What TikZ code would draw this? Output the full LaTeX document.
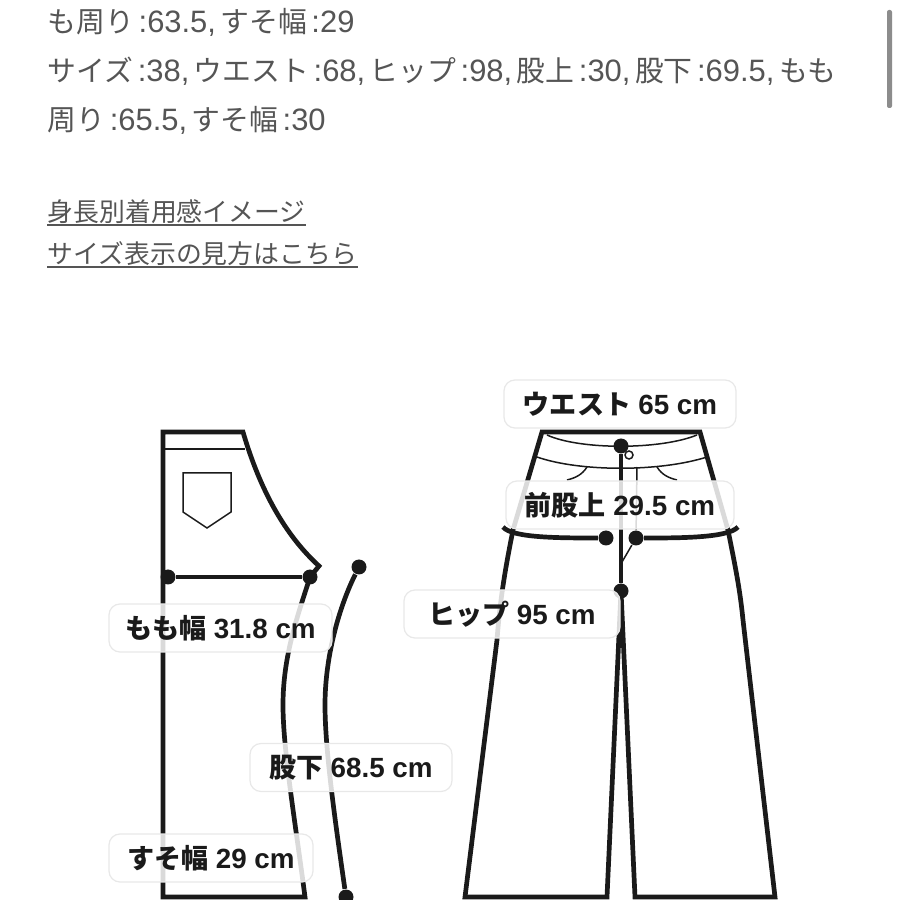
\documentclass[tikz,border=0pt]{standalone}
\usepackage{fontspec}
\setmainfont{Noto Sans CJK JP}
\newfontfamily\latf{Liberation Sans}
\usepackage{xcolor}
\usetikzlibrary{positioning}
\definecolor{textg}{HTML}{555555}
\definecolor{inkk}{HTML}{1A1A1A}
\newcommand{\tnum}[1]{\kern1.28pt{\fontsize{8.8}{8}\selectfont\latf #1}\kern1.28pt}
\newcommand{\lnum}[1]{\hspace{0.3pt}{\fontsize{7.9}{8}\selectfont\latf #1}}
\tikzset{
    mydot/.style = {circle, fill=inkk, inner sep=0pt, minimum size=0.15cm},
    outl/.style = {draw=inkk, line width=0.047cm, line join=miter},
    thin/.style = {draw=inkk, line width=0.015cm},
    toptext/.style = {anchor=base west, inner sep=0pt, text=textg, font=\fontsize{8.2}{8}\selectfont},
    linktext/.style = {anchor=base west, inner sep=0pt, text=textg, font=\fontsize{7.35}{8}\selectfont},
    linkline/.style = {draw=textg, line width=0.02cm},
    sizelabel/.style = {rectangle, rounded corners=0.11cm, draw=black!9, line width=0.012cm, fill=white, fill opacity=0.84, text opacity=1, text=inkk, inner sep=0pt, font=\fontsize{7.7}{8}\bfseries\selectfont, minimum height=0.48cm},
}
\begin{document}
\begin{tikzpicture}
\useasboundingbox (0,0) rectangle (9,9);
\fill[white] (0,0) rectangle (9,9);
\node[toptext] (topa) at (0.47,8.67) {も周り\tnum{:63.5,}すそ幅\tnum{:29}};
\node[toptext] (topb) at (0.47,8.18) {サイズ\tnum{:38,}ウエスト\tnum{:68,}ヒップ\tnum{:98,}股上\tnum{:30,}股下\tnum{:69.5,}もも};
\node[toptext] (topc) at (0.47,7.69) {周り\tnum{:65.5,}すそ幅\tnum{:30}};
\node[linktext] (lnka) at (0.47,6.78) {身長別着用感イメージ};
\node[linktext] (lnkb) at (0.47,6.36) {サイズ表示の見方はこちら};
\draw[linkline] ([yshift=-0.03cm]lnka.base west) -- ([yshift=-0.03cm]lnka.base east);
\draw[linkline] ([yshift=-0.03cm]lnkb.base west) -- ([yshift=-0.03cm]lnkb.base east);
\fill[black!45,rounded corners=0.02cm] (8.87,7.92) rectangle (8.92,8.90);
%
% side view
\draw[outl] (1.63,4.68) -- (2.43,4.68) .. controls (2.60,4.10) and (2.85,3.65) .. (3.19,3.34)
    -- (3.10,3.23) .. controls (2.98,2.85) and (2.83,2.45) .. (2.83,1.95)
    .. controls (2.83,1.5) and (2.95,0.8) .. (3.05,0.03) -- (1.63,0.03) -- cycle;
\draw[thin] (1.65,4.51) -- (2.45,4.51);
\draw[thin] (1.83,4.27) -- (2.31,4.27) -- (2.31,3.88) -- (2.07,3.72) -- (1.83,3.88) -- cycle;
%
\node[mydot] at (1.68,3.23) (tl) {};
\node[mydot] at (3.10,3.23) (tr) {};
\node[mydot] at (3.59,3.33) (ia) {};
\node[mydot] at (3.46,0.03) (ib) {};
\draw[outl] (tl) -- (tr);
\draw[outl] (ia) .. controls (3.40,2.95) and (3.25,2.45) .. (3.25,1.95)
    .. controls (3.25,1.5) and (3.35,0.8) .. (ib);
%
% front view
\draw[outl] (5.42,4.68) -- (7.00,4.68) -- (7.28,3.70) .. controls (7.36,3.3) and (7.40,3.1) .. (7.43,2.80)
    -- (7.75,0.03) -- (6.35,0.03) -- (6.21,3.09) -- (6.07,0.03) -- (4.65,0.03) -- (4.97,2.60)
    .. controls (5.00,3.0) and (5.05,3.3) .. (5.13,3.70) -- cycle;
\draw[thin] (5.47,4.65) .. controls (5.80,4.50) and (6.60,4.50) .. (6.97,4.65);
\draw[thin] (5.37,4.43) .. controls (5.80,4.28) and (6.60,4.28) .. (7.07,4.43);
\draw[thin] (5.87,4.33) .. controls (5.82,4.25) and (5.75,4.22) .. (5.67,4.20);
\draw[thin] (6.57,4.33) .. controls (6.62,4.25) and (6.69,4.22) .. (6.77,4.20);
\node[circle,thin,fill=white,inner sep=0pt,minimum size=0.08cm] at (6.29,4.45) (btn) {};
%
\node[mydot] at (6.21,4.54) (wa) {};
\node[mydot] at (6.21,3.09) (cr) {};
\node[mydot] at (6.06,3.62) (hl) {};
\node[mydot] at (6.36,3.62) (hr) {};
\coordinate (hle) at (5.03,3.73);
\coordinate (hre) at (7.38,3.73);
\coordinate (fa) at (6.37,4.33);
\coordinate (fb) at (6.22,3.38);
\draw[outl] (wa) -- (cr);
\draw[outl] (hl) .. controls (5.60,3.62) and (5.12,3.62) .. (hle);
\draw[outl] (hr) .. controls (6.80,3.62) and (7.28,3.62) .. (hre);
\draw[thin] (fa) -- (hr) -- (fb);
%
% size labels
\node[sizelabel,minimum width=2.32cm] at (6.20,4.96) (lwaist) {ウエスト \lnum{65 cm}};
\node[sizelabel,minimum width=2.28cm] at (6.20,3.95) (lrise) {前股上 \lnum{29.5 cm}};
\node[sizelabel,minimum width=2.16cm] at (5.12,2.86) (lhip) {ヒップ \lnum{95 cm}};
\node[sizelabel,minimum width=2.23cm] at (2.205,2.72) (lthigh) {もも幅 \lnum{31.8 cm}};
\node[sizelabel,minimum width=2.02cm] at (3.51,1.325) (linsm) {股下 \lnum{68.5 cm}};
\node[sizelabel,minimum width=2.04cm] at (2.11,0.42) (lhem) {すそ幅 \lnum{29 cm}};
\end{tikzpicture}
\end{document}
